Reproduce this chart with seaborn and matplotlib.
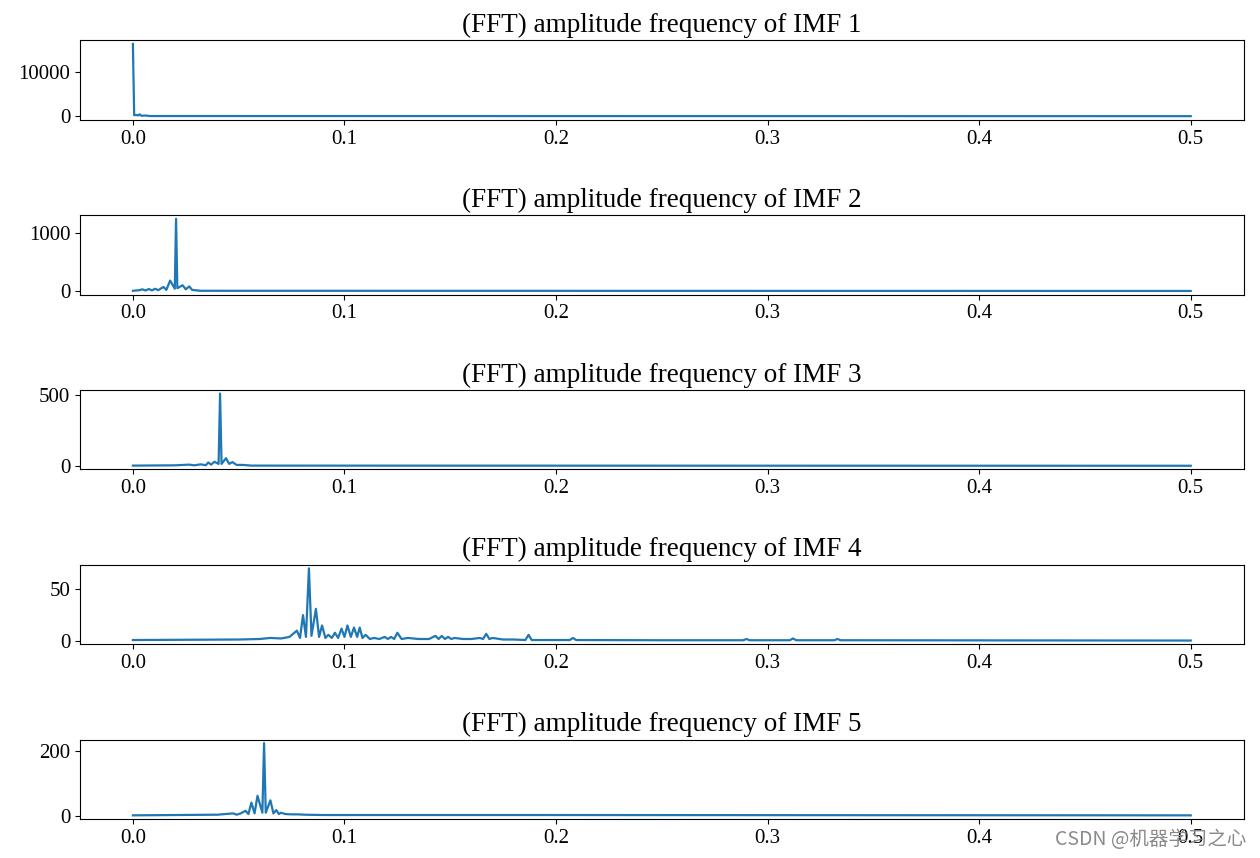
import matplotlib
matplotlib.use("Agg")
import matplotlib.pyplot as plt
import seaborn as sns

# Amplitude spectra of the five IMFs (frequency, amplitude)
freq1 = [0.0, 0.0006, 0.0015, 0.0025, 0.0032, 0.004, 0.006, 0.008, 0.5]
amp1 = [16500, 250, 300, 200, 450, 120, 180, 60, 30]

freq2 = [0.0, 0.003, 0.0045, 0.006, 0.0075, 0.009, 0.0105, 0.012, 0.0135, 0.0145,
         0.0158, 0.0176, 0.0198, 0.0204, 0.021, 0.0235, 0.025, 0.0266, 0.028, 0.032, 0.5]
amp2 = [5, 15, 30, 10, 35, 12, 40, 15, 50, 70,
        20, 180, 40, 1240, 50, 100, 30, 80, 20, 5, 2]

freq3 = [0.0, 0.01, 0.02, 0.0265, 0.029, 0.032, 0.0345, 0.0356, 0.037, 0.0385,
         0.0405, 0.0412, 0.0419, 0.044, 0.0455, 0.047, 0.049, 0.052, 0.056, 0.5]
amp3 = [3, 4, 5, 10, 5, 12, 6, 25, 10, 30,
        15, 510, 15, 55, 15, 28, 8, 8, 3, 2]

freq4 = [0.0, 0.05, 0.06, 0.065, 0.07, 0.074, 0.0775, 0.079, 0.0804, 0.0818,
         0.0832, 0.0844, 0.0865, 0.088, 0.0894, 0.091, 0.0924, 0.094, 0.0955, 0.097,
         0.0986, 0.1, 0.1014, 0.103, 0.1045, 0.106, 0.1072, 0.1085, 0.110, 0.112,
         0.114, 0.1165, 0.119, 0.1205, 0.122, 0.1235, 0.125, 0.127, 0.130, 0.135,
         0.140, 0.143, 0.1445, 0.146, 0.1475, 0.149, 0.1505, 0.152, 0.156, 0.160,
         0.164, 0.1655, 0.167, 0.1685, 0.170, 0.175, 0.18, 0.1855, 0.187, 0.1885,
         0.195, 0.2065, 0.208, 0.2095, 0.25, 0.2885, 0.29, 0.2915, 0.3105, 0.312,
         0.3135, 0.3315, 0.333, 0.3345, 0.5]
amp4 = [1, 1.5, 2, 3, 2.5, 4, 10, 3, 25, 4,
        70, 5, 31, 4, 15, 3, 6, 3, 8, 3,
        12, 4, 15, 4, 13, 4, 13, 3, 6, 2,
        3, 2, 4, 2, 4, 2, 8, 2, 3, 2,
        2, 5, 2, 5, 2, 4, 2, 3, 2, 2,
        3, 2, 7, 2, 3, 1.5, 1.5, 1, 6, 1,
        1, 1, 3, 1, 0.8, 0.8, 2, 0.8, 0.8, 2.5,
        0.8, 0.8, 2, 0.8, 0.5]

freq5 = [0.0, 0.02, 0.04, 0.0474, 0.049, 0.051, 0.0532, 0.0546, 0.056, 0.0575,
         0.0589, 0.0612, 0.062, 0.0628, 0.065, 0.0664, 0.0678, 0.069, 0.070, 0.072,
         0.075, 0.078, 0.081, 0.09, 0.125, 0.187, 0.5]
amp5 = [2, 3, 4, 8, 4, 8, 16, 6, 41, 8,
        62, 10, 223, 10, 48, 8, 18, 6, 10, 6,
        5, 5, 4, 3, 3, 3, 2]

spectra = [(freq1, amp1), (freq2, amp2), (freq3, amp3), (freq4, amp4), (freq5, amp5)]
titles = [f"(FFT) amplitude frequency of IMF {i}" for i in range(1, 6)]

plt.rcParams['font.family'] = ['Liberation Serif', 'DejaVu Serif']

fig, axes = plt.subplots(5, 1, figsize=(12.6, 8.58), dpi=100)
fig.subplots_adjust(left=0.0635, right=0.987, top=0.953, bottom=0.0455, hspace=1.2)

for ax, (f, a), title in zip(axes, spectra, titles):
    sns.lineplot(x=f, y=a, ax=ax, estimator=None, color='#1f77b4', linewidth=1.6)
    ax.set_title(title, fontsize=19.5)
    ax.set_xticks([0.0, 0.1, 0.2, 0.3, 0.4, 0.5])
    ax.tick_params(labelsize=15)

fig.text(0.837, 0.015, "CSDN @机器学习之心", fontsize=14, color='#8a8a8a',
         family=['Noto Sans CJK SC', 'DejaVu Sans'])

fig.savefig("out.png", dpi=100)
